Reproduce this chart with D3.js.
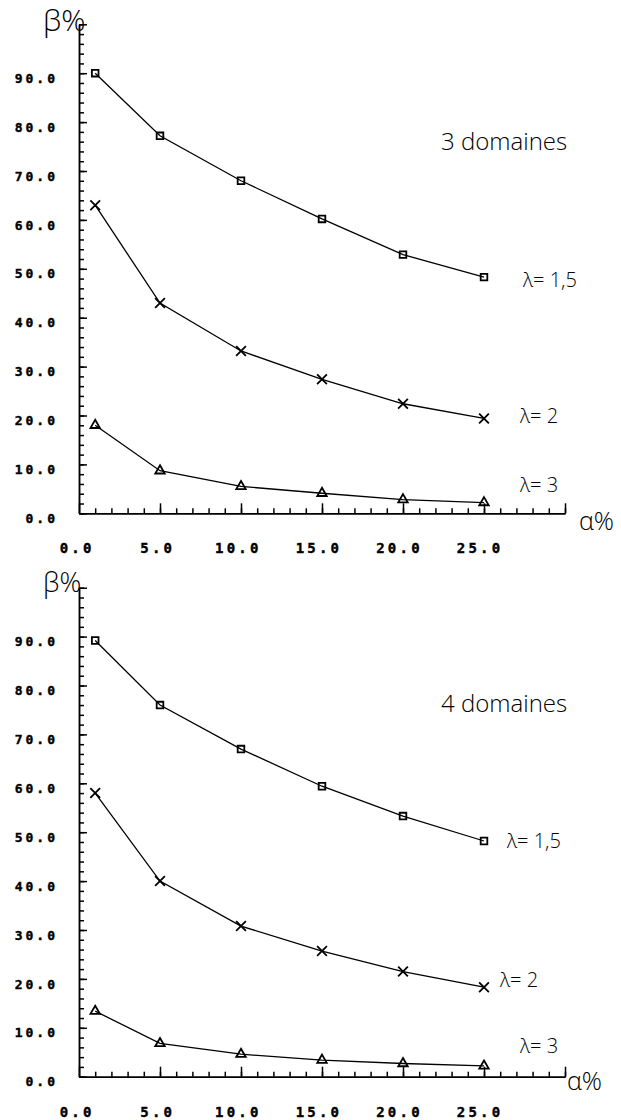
<!DOCTYPE html>
<html><head><meta charset="utf-8">
<script src="https://cdn.jsdelivr.net/npm/d3@7"></script>
<style>html,body{margin:0;padding:0;background:#fff}</style>
</head><body>
<svg id="c" width="621" height="1120"></svg>
<script>
// ---- data ----
const alphaValues = [1, 5, 10, 15, 20, 25];
const panelTitles = ["3 domaines", "4 domaines"];
const lambdaLabels = ["λ= 1,5", "λ= 2", "λ= 3"];
const beta3_l15 = [90.0, 77.2, 68.0, 60.2, 52.9, 48.3];
const beta3_l2  = [63.0, 43.0, 33.2, 27.4, 22.4, 19.4];
const beta3_l3  = [18.0, 8.7, 5.5, 4.1, 2.8, 2.2];
const beta4_l15 = [89.2, 76.0, 67.0, 59.4, 53.3, 48.2];
const beta4_l2  = [58.0, 40.0, 30.8, 25.7, 21.5, 18.3];
const beta4_l3  = [13.4, 6.8, 4.6, 3.4, 2.7, 2.2];
const xTickLabelValues = [0, 5, 10, 15, 20, 25];
const yTickLabelValues = [0, 10, 20, 30, 40, 50, 60, 70, 80, 90];
const xDomain = [0, 30];
const yDomain = [0, 100];

// ---- layout ----
const svg = d3.select("#c");
const hand = "'Open Sans', 'DejaVu Sans', sans-serif";
const mono = "'DejaVu Sans Mono', 'Liberation Mono', monospace";
const fmt = d3.format(".1f");

const panels = [
  { title: panelTitles[0], series: [beta3_l15, beta3_l2, beta3_l3], base: 513.3,
    beta: {x: 43, y: 31, size: 30}, titlePos: {x: 441, y: 150},
    lam: [{x: 523, y: 287}, {x: 520, y: 423}, {x: 520, y: 492}],
    alpha: {x: 579, y: 530} },
  { title: panelTitles[1], series: [beta4_l15, beta4_l2, beta4_l3], base: 1076.7,
    beta: {x: 43, y: 592, size: 27}, titlePos: {x: 441, y: 712},
    lam: [{x: 507, y: 848}, {x: 500, y: 987}, {x: 520, y: 1053}],
    alpha: {x: 567, y: 1090} }
];
const markerTypes = [d3.symbolSquare2, d3.symbolTimes, d3.symbolTriangle2];
const markerSizes = [56, 64, 64];

panels.forEach(p => {
  const x = d3.scaleLinear().domain(xDomain).range([79, 565]);
  // plotter labels drift slightly left of their ticks
  const xLab = d3.scaleLinear().domain([0, 25]).range([75, 478]);
  const y = d3.scaleLinear().domain(yDomain).range([p.base, p.base - 489]);
  const g = svg.append("g").attr("color", "#000");

  // y axis minor ticks
  g.append("g").attr("transform", "translate(79,0)")
    .call(d3.axisLeft(y).tickValues(d3.range(0, 101, 2)).tickSizeInner(-5).tickSizeOuter(0).tickFormat(""))
    .call(s => s.selectAll("line,path").attr("stroke-width", 1.5));
  // y axis major ticks + labels
  g.append("g").attr("transform", "translate(79,0)")
    .call(d3.axisLeft(y).tickValues(d3.range(0, 101, 10)).tickSizeInner(-8).tickSizeOuter(0)
      .tickPadding(21).tickFormat(d => yTickLabelValues.includes(d) ? fmt(d) : ""))
    .call(s => s.selectAll("line,path").attr("stroke-width", 1.5))
    .call(s => s.selectAll("text").attr("font-family", mono).attr("font-weight", "bold")
      .attr("font-size", 13).attr("letter-spacing", 3).attr("y", 5).attr("fill", "#000")
      .attr("stroke", "#000").attr("stroke-width", 0.4));

  // x axis minor ticks
  g.append("g").attr("transform", `translate(0,${p.base})`)
    .call(d3.axisBottom(x).tickValues(d3.range(1, 31, 1)).tickSizeInner(-5).tickSizeOuter(0).tickFormat(""))
    .call(s => s.selectAll("line,path").attr("stroke-width", 1.5));
  // x axis major ticks
  g.append("g").attr("transform", `translate(0,${p.base})`)
    .call(d3.axisBottom(x).tickValues(d3.range(0, 31, 5)).tickSizeInner(-10).tickSizeOuter(0).tickFormat(""))
    .call(s => s.selectAll("line,path").attr("stroke-width", 1.5));
  // x axis labels
  g.append("g").attr("transform", `translate(0,${p.base})`)
    .call(d3.axisBottom(xLab).tickValues(xTickLabelValues).tickSize(0)
      .tickPadding(30).tickFormat(fmt))
    .call(s => s.select(".domain").remove())
    .call(s => s.selectAll("text").attr("font-family", mono).attr("font-weight", "bold")
      .attr("font-size", 14).attr("letter-spacing", 3.2).attr("dx", 1.6).attr("fill", "#000")
      .attr("stroke", "#000").attr("stroke-width", 0.4));

  // series
  const line = d3.line().x(d => x(d[0])).y(d => y(d[1])).curve(d3.curveLinear);
  p.series.forEach((vals, i) => {
    const pts = alphaValues.map((a, k) => [a, vals[k]]);
    g.append("path").attr("d", line(pts)).attr("fill", "none")
      .attr("stroke", "#000").attr("stroke-width", 1.3);
    g.selectAll(null).data(pts).join("path")
      .attr("transform", d => `translate(${x(d[0])},${y(d[1])})`)
      .attr("d", d3.symbol().type(markerTypes[i]).size(markerSizes[i]))
      .attr("fill", "none").attr("stroke", "#000").attr("stroke-width", 1.8);
    g.append("text").attr("x", p.lam[i].x).attr("y", p.lam[i].y)
      .attr("font-family", hand).attr("font-weight", 300).attr("font-size", 20)
      .attr("fill", "#000").text(lambdaLabels[i]);
  });

  // handwritten labels
  g.append("text").attr("x", p.beta.x).attr("y", p.beta.y)
    .attr("font-family", hand).attr("font-weight", 300).attr("font-size", p.beta.size)
    .attr("fill", "#000").text("β%");
  g.append("text").attr("x", p.titlePos.x).attr("y", p.titlePos.y)
    .attr("font-family", hand).attr("font-weight", 300).attr("font-size", 24)
    .attr("fill", "#000").text(p.title);
  g.append("text").attr("x", p.alpha.x).attr("y", p.alpha.y)
    .attr("font-family", hand).attr("font-weight", 300).attr("font-size", 25)
    .attr("fill", "#000").text("α%");
});
</script>
</body></html>
